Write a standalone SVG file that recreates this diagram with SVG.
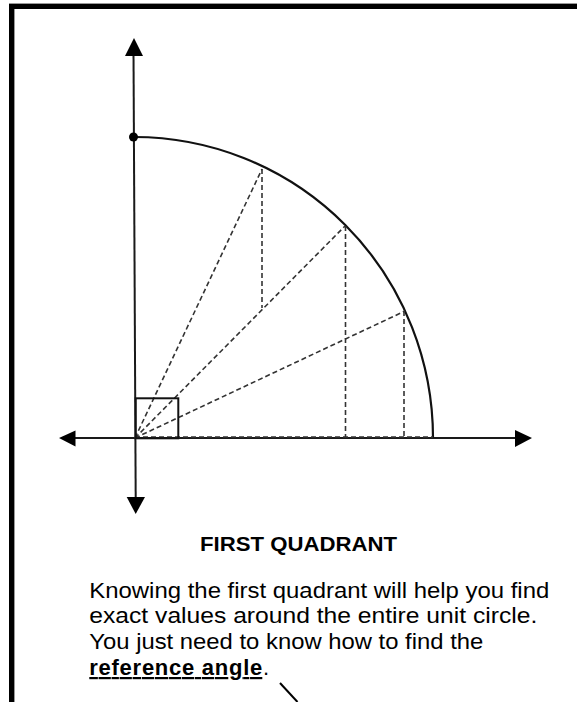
<svg xmlns="http://www.w3.org/2000/svg" width="577" height="702" viewBox="0 0 577 702">
<style>
.ax{stroke:#1a1a1a;stroke-width:2;fill:none}
.head{fill:#000}
.arc{stroke:#111;stroke-width:2.2;fill:none}
.dash{stroke:#333;stroke-width:1.6;stroke-dasharray:5 3;fill:none}
.title{font-family:"Liberation Sans",Arial,sans-serif;font-weight:bold;font-size:20px;fill:#000}
.body{font-family:"Liberation Sans",Arial,sans-serif;font-size:22px;fill:#000}
</style>
<rect width="577" height="702" fill="#fff"/>
<g id="frame">
<line x1="9" y1="3.5" x2="577" y2="3.5" stroke="#999" stroke-width="1"/>
<line x1="14.5" y1="9" x2="14.5" y2="702" stroke="#999" stroke-width="1"/>
<rect x="11.5" y="6.5" width="700" height="800" fill="none" stroke="#000" stroke-width="5"/>
</g>
<g id="axes">
<line class="ax" x1="133.5" y1="52" x2="135.7" y2="499"/>
<polygon class="head" points="134,38 125,56 143,56"/>
<polygon class="head" points="135.7,514 126.7,497 145,497"/>
<line class="ax" x1="73" y1="438" x2="517" y2="438"/>
<polygon class="head" points="59,438 75.5,430.5 75.5,446.5"/>
<polygon class="head" points="532,438 515,430 515,447"/>
</g>
<g id="arc">
<path class="arc" d="M 133.5 137 A 299 301 0 0 1 433 438"/>
<circle cx="133.5" cy="137" r="4.5" fill="#000"/>
</g>
<g id="construction">
<line class="dash" x1="135" y1="437" x2="433" y2="437"/>
<line class="dash" x1="135" y1="438" x2="262" y2="169"/>
<line class="dash" x1="135" y1="438" x2="345" y2="226"/>
<line class="dash" x1="135" y1="438" x2="405" y2="311"/>
<line class="dash" x1="262" y1="169" x2="262" y2="308"/>
<line class="dash" x1="345.5" y1="226" x2="345.5" y2="438"/>
<line class="dash" x1="404" y1="311" x2="404" y2="438"/>
</g>
<g id="right-angle-box">
<rect x="135.7" y="398.3" width="42.6" height="40" fill="none" stroke="#111" stroke-width="2"/>
</g>
<g id="title">
<text class="title" x="200" y="551" textLength="197" lengthAdjust="spacingAndGlyphs">FIRST QUADRANT</text>
</g>
<g id="description">
<text class="body" x="89.3" y="597.5" textLength="460" lengthAdjust="spacingAndGlyphs">Knowing the first quadrant will help you find</text>
<text class="body" x="89.3" y="623.3" textLength="448" lengthAdjust="spacingAndGlyphs">exact values around the entire unit circle.</text>
<text class="body" x="89.3" y="649.2" textLength="394" lengthAdjust="spacingAndGlyphs">You just need to know how to find the</text>
<text class="body" x="89.3" y="675" ><tspan font-weight="bold" text-decoration="underline" textLength="173">reference angle</tspan>.</text>
<line x1="280" y1="683" x2="297.5" y2="702" stroke="#000" stroke-width="2"/>
</g>
</svg>
